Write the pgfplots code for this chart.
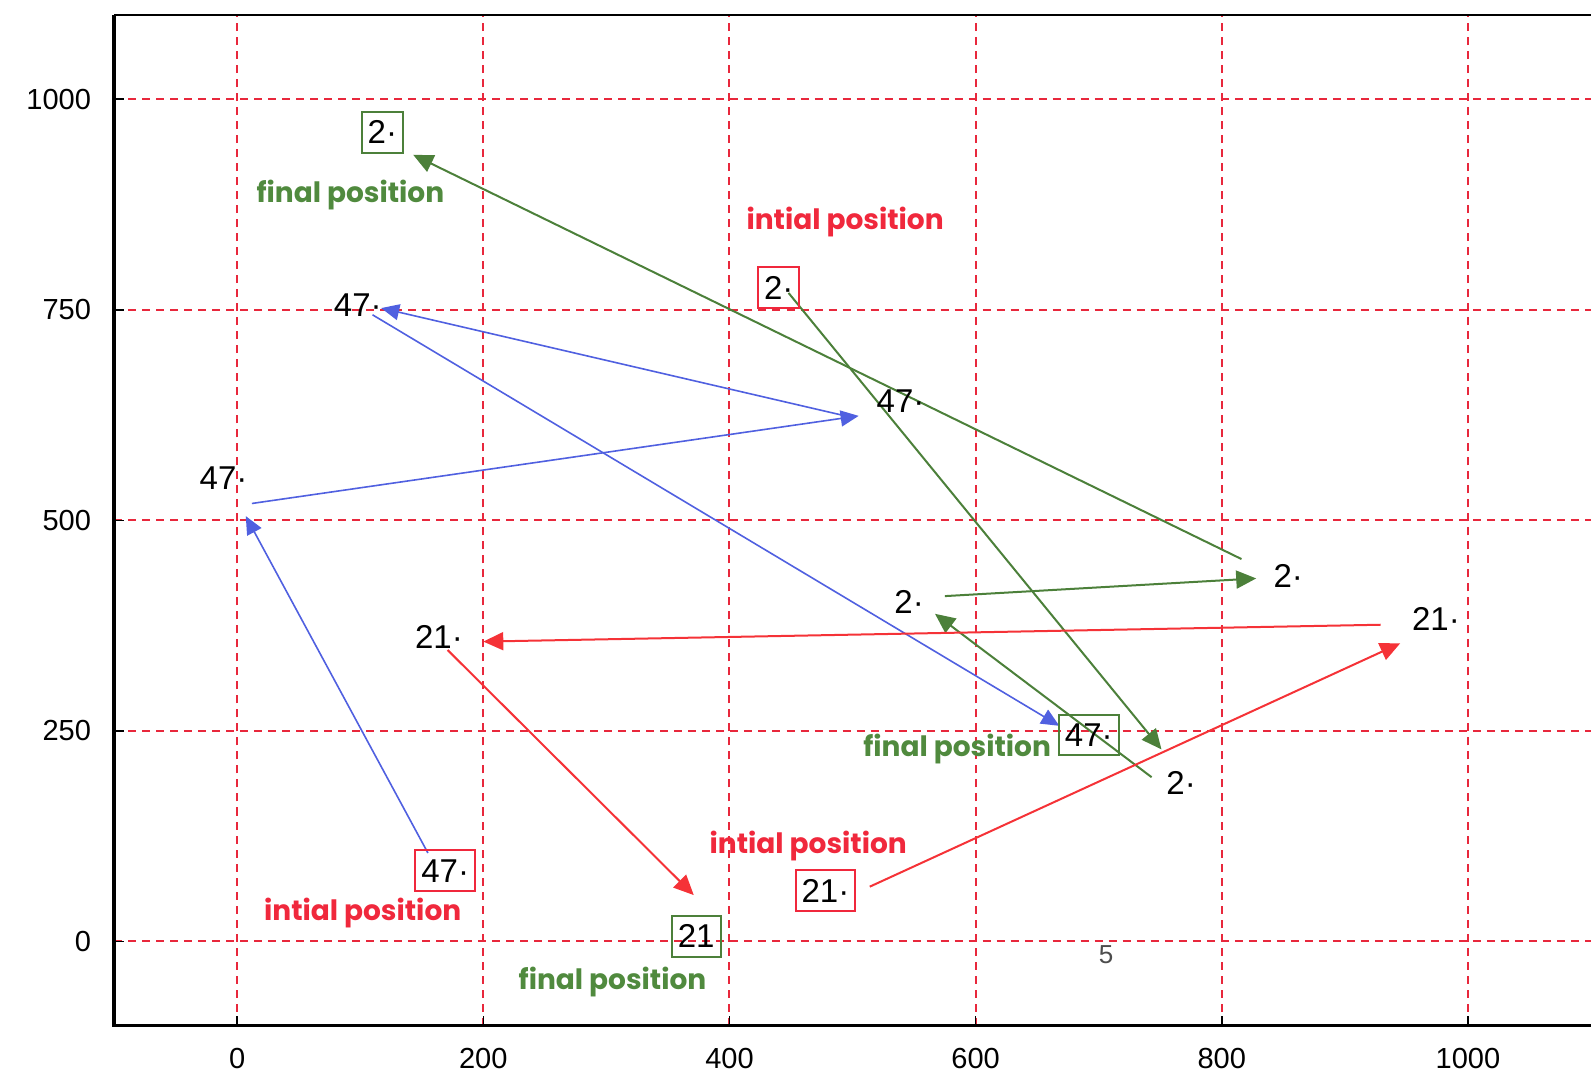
\documentclass[border=0pt]{standalone}
\usepackage{fontspec}
\setmainfont{Liberation Sans}
\newfontfamily\posfont{Poppins}
\usepackage{pgfplots}
\pgfplotsset{compat=1.18}
\usetikzlibrary{arrows.meta,calc}
\definecolor{gridred}{RGB}{232,40,60}
\definecolor{pgreen}{RGB}{76,128,58}
\definecolor{tgreen}{RGB}{80,138,62}
\definecolor{tred}{RGB}{240,40,60}
\definecolor{pblue}{RGB}{80,96,224}
\definecolor{pred}{RGB}{245,50,55}
\tikzset{
  numlab/.style={font=\fontsize{16.5}{18}\selectfont, text=black, inner xsep=3pt, inner ysep=4.5pt},
  poslab/.style={font=\posfont\bfseries\fontsize{14}{17}\selectfont},
  garrow/.style={pgreen, line width=1pt, -{Triangle[length=10pt,width=9pt]}},
  barrow/.style={pblue, line width=0.8pt, -{Triangle[length=9pt,width=8pt]}},
  rarrow/.style={pred, line width=1pt, -{Triangle[length=10pt,width=9pt]}},
}
\begin{document}
\begin{tikzpicture}
\begin{axis}[scale only axis, width=738pt, height=505pt,
  xmin=-100, xmax=1100, ymin=-100, ymax=1100,
  xtick={0,200,...,1000}, ytick={0,250,...,1000},
  grid=major,
  grid style={gridred, line width=1pt, dash pattern=on 4pt off 3pt},
  axis line style={draw=none},
  tick align=inside, xtick pos=bottom, ytick pos=left,
  major tick length=5pt, tick style={black, line width=0.8pt},
  ticklabel style={font=\fontsize{14.5}{16}\selectfont},
  /pgf/number format/assume math mode=true,
  /pgf/number format/1000 sep={},
  xticklabel style={yshift=-8pt}, yticklabel style={xshift=-8pt},
  clip=false,
]
% frame
\draw[black, line width=1.6pt] (rel axis cs:0,1) -- (rel axis cs:0,0) -- (rel axis cs:1,0);
\draw[black, line width=0.9pt] (rel axis cs:0,1) -- (rel axis cs:1,1);

% object 2 (green)
\addplot[garrow] coordinates {(448,770) (751,228)};
\addplot[garrow] coordinates {(743,195) (567,389)};
\addplot[garrow] coordinates {(575,410) (828,431)};
\addplot[garrow] coordinates {(816,454) (143,934)};

% object 47 (blue)
\addplot[barrow] coordinates {(155,105) (7,505)};
\addplot[barrow] coordinates {(12,520) (505,624)};
\addplot[barrow] coordinates {(500,622) (117,752)};
\addplot[barrow] coordinates {(110,744) (668,256)};

% object 21 (red)
\addplot[rarrow] coordinates {(514,65) (945,354)};
\addplot[rarrow] coordinates {(929,376) (200,356)};
\addplot[rarrow] coordinates {(171,346) (371,55)};

% labels
\node[numlab, draw=pgreen, line width=1pt] at (axis cs:118,961) {2·};
\node[numlab, draw=tred, line width=1pt] at (axis cs:440,776) {2·};
\node[numlab] at (axis cs:546,403) {2·};
\node[numlab] at (axis cs:854,434) {2·};
\node[numlab] at (axis cs:767,188) {2·};

\node[numlab] at (axis cs:98,756) {47·};
\node[numlab] at (axis cs:539,642) {47·};
\node[numlab] at (axis cs:-11,550) {47·};
\node[numlab, draw=pgreen, line width=1pt] at (axis cs:692,245) {47·};
\node[numlab, draw=tred, line width=1pt] at (axis cs:169,84) {47·};

\node[numlab] at (axis cs:164,361) {21·};
\node[numlab] at (axis cs:974,383) {21·};
\node[numlab, draw=tred, line width=1pt] at (axis cs:478,60) {21·};
\node[numlab, draw=pgreen, line width=1pt] at (axis cs:373,6) {21};

\node[poslab, text=tgreen] at (axis cs:92,886) {final position};
\node[poslab, text=tred] at (axis cs:494,854) {intial position};
\node[poslab, text=tgreen] at (axis cs:585,229) {final position};
\node[poslab, text=tred] at (axis cs:464,113) {intial position};
\node[poslab, text=tred] at (axis cs:102,34) {intial position};
\node[poslab, text=tgreen] at (axis cs:305,-48) {final position};
\node[font=\fontsize{13}{15}\selectfont, text=black!70] at (axis cs:706,-16) {5};
\end{axis}
\pgfresetboundingbox
\path ($(current axis.south west)+(-57pt,-30pt)$) rectangle ($(current axis.north east)+(0pt,7.5pt)$);
\end{tikzpicture}
\end{document}
